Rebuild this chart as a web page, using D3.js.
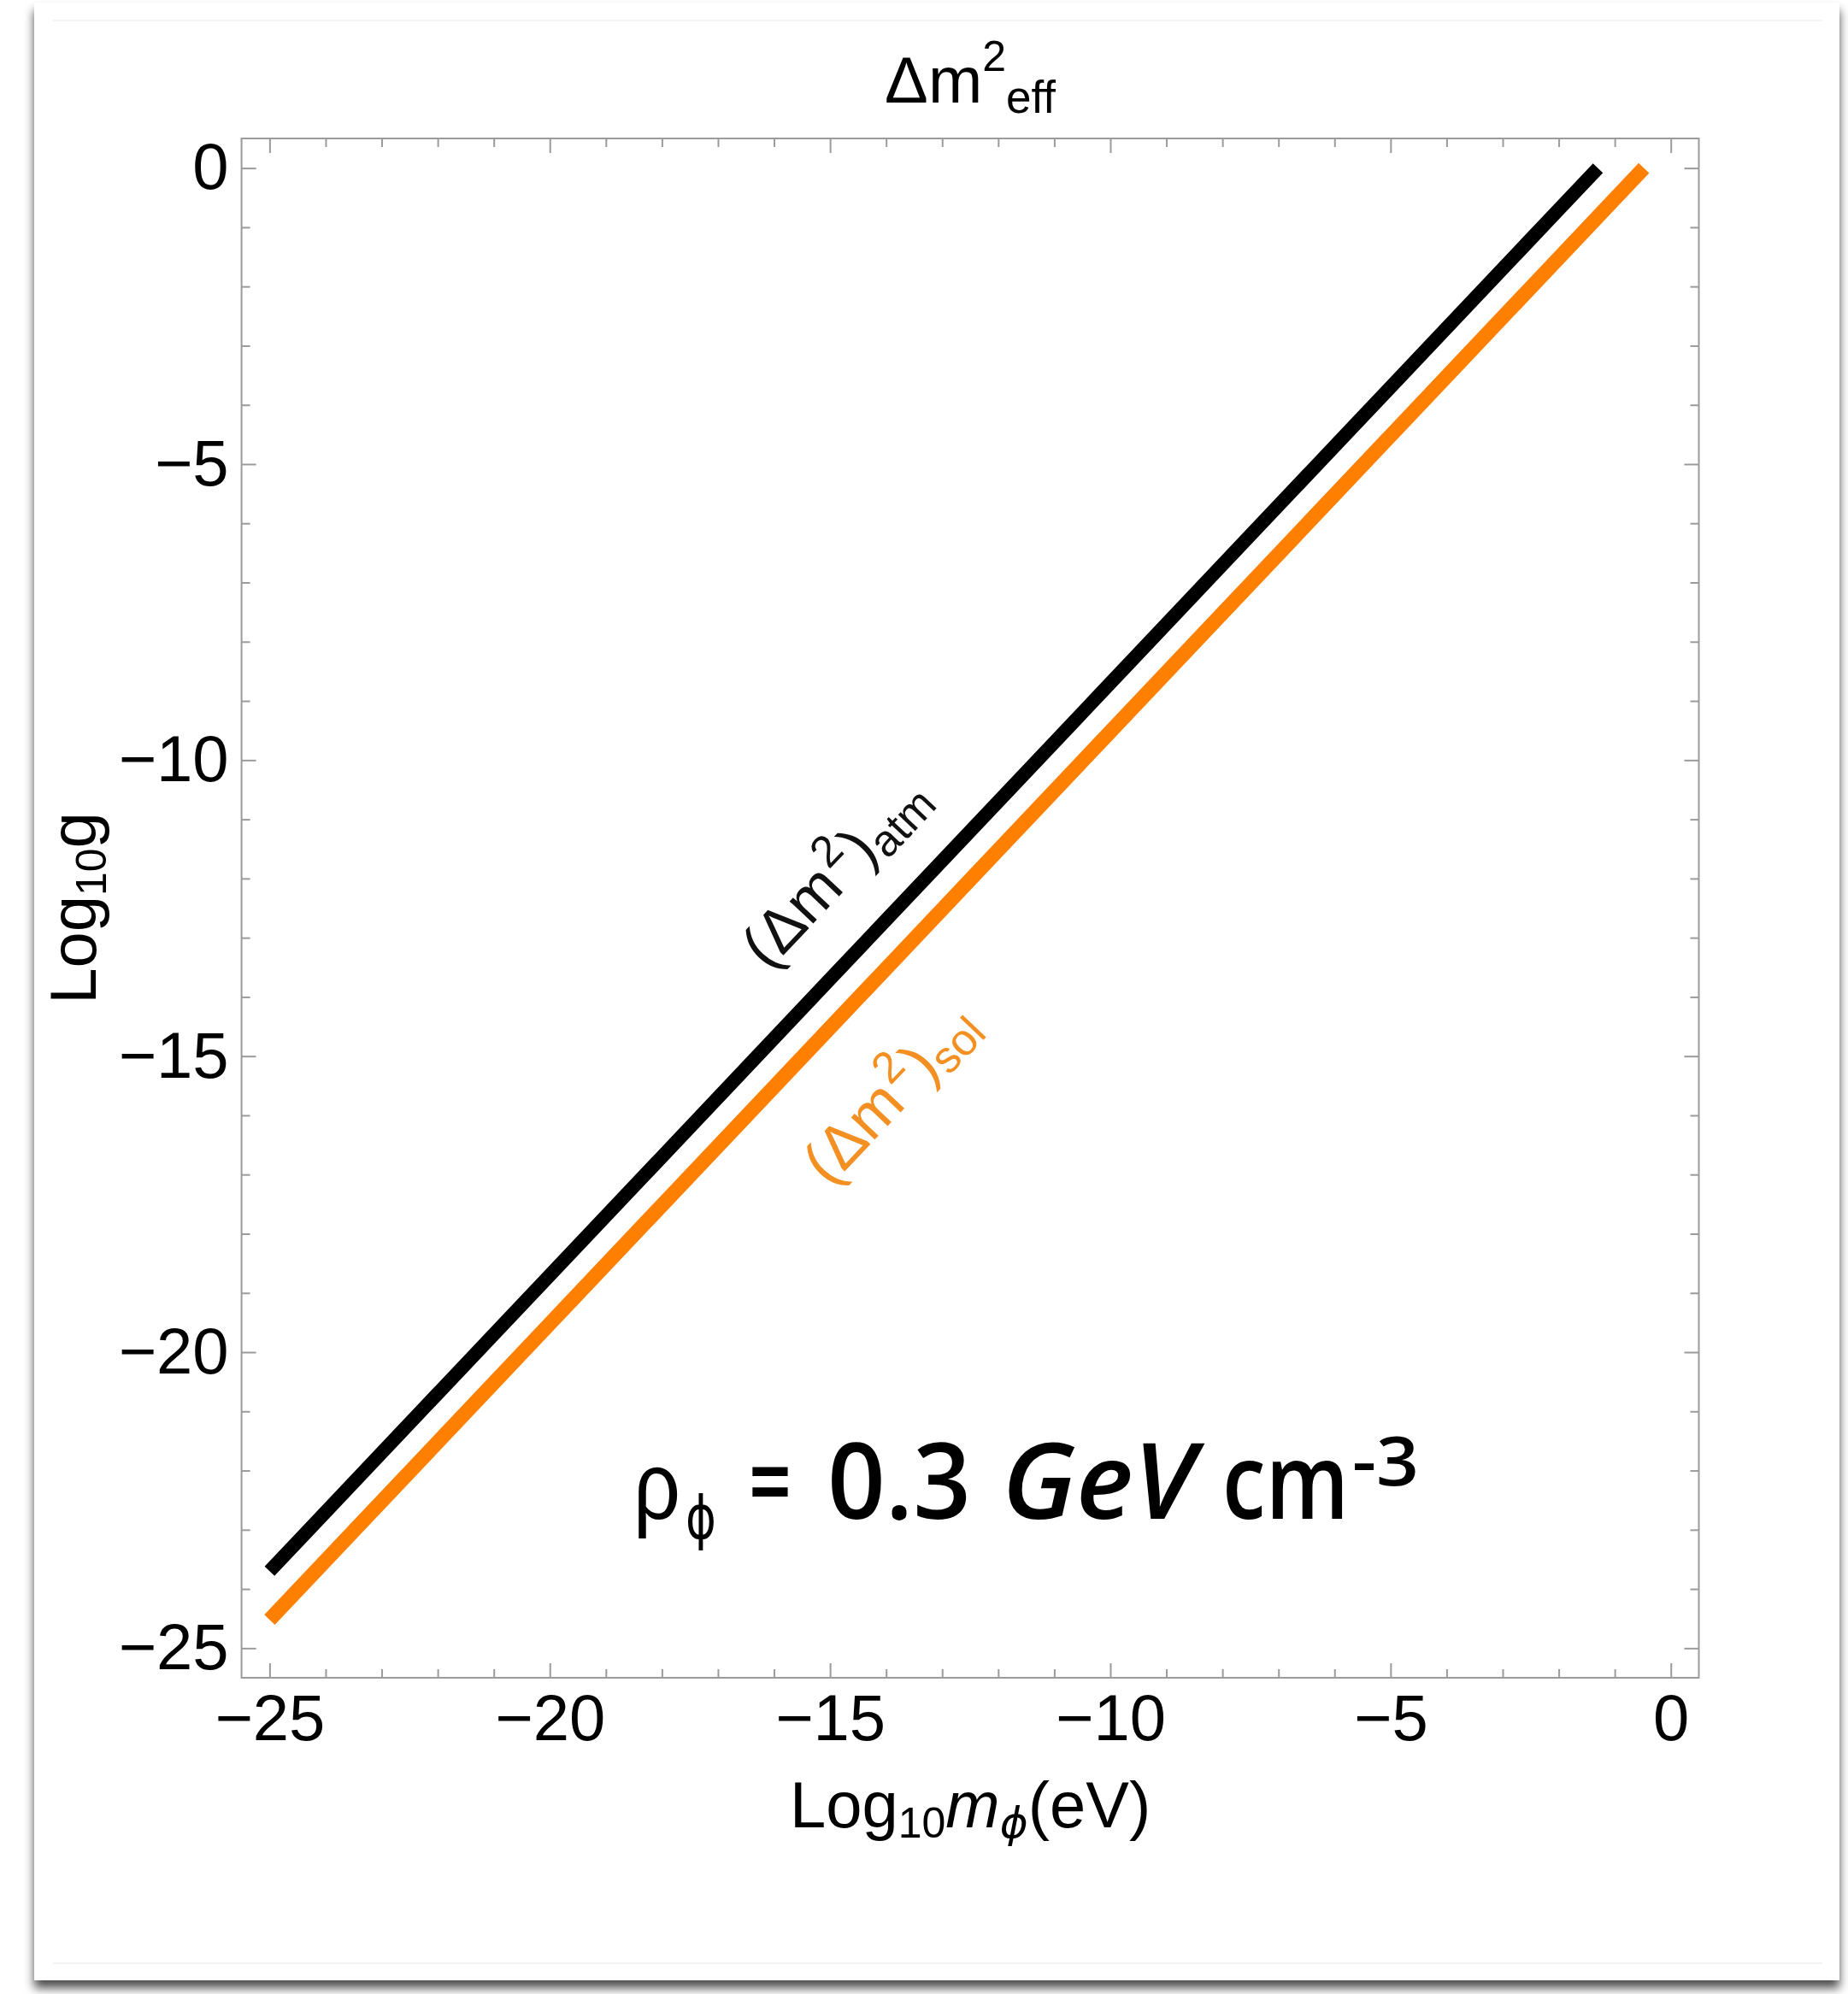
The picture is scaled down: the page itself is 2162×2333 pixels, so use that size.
<!DOCTYPE html>
<html>
<head>
<meta charset="utf-8">
<script src="https://cdn.jsdelivr.net/npm/d3@7"></script>
<style>
  html, body { margin: 0; padding: 0; background: #ffffff; }
  svg { display: block; }
</style>
</head>
<body>
<svg id="chart" width="2162" height="2333"></svg>
<script>
// Coupling needed for each mass splitting vs. scalar mass (log-log)
const mPhiAtm = [-25, -20, -15, -10, -5, -1.3];
const gAtm    = [-23.7, -18.7, -13.7, -8.7, -3.7, 0];
const mPhiSol = [-25, -20, -15, -10, -5, -0.48];
const gSol    = [-24.52, -19.52, -14.52, -9.52, -4.52, 0];

const xMajorTicks = [-25, -20, -15, -10, -5, 0];
const yMajorTicks = [-25, -20, -15, -10, -5, 0];
const xDomain = [-25.5, 0.5];
const yDomain = [-25.5, 0.5];

const seriesNames = ["atm", "sol"];
const seriesColors = ["#000000", "#ff8000"];
const labelColors = ["#111111", "#f39021"];

const svg = d3.select("#chart");
const W = 2162, H = 2333;
const frame = { left: 282.6, right: 1987.5, top: 162, bottom: 1963 };

const x = d3.scaleLinear().domain(xDomain).range([frame.left, frame.right]);
const y = d3.scaleLinear().domain(yDomain).range([frame.bottom, frame.top]);

// --- card with a soft drop shadow ---
const defs = svg.append("defs");
const shadow = defs.append("filter").attr("id", "cardShadow")
  .attr("x", "-5%").attr("y", "-5%").attr("width", "110%").attr("height", "110%");
shadow.append("feDropShadow")
  .attr("dx", 0).attr("dy", 9).attr("stdDeviation", 6)
  .attr("flood-color", "#000").attr("flood-opacity", 0.7);

svg.append("rect").attr("x", 0).attr("y", 0).attr("width", W).attr("height", H).attr("fill", "#ffffff");
svg.append("rect")
  .attr("x", 40).attr("y", 3).attr("width", 2112).attr("height", 2314)
  .attr("fill", "#ffffff").attr("filter", "url(#cardShadow)");
// faint inner rules of the card
svg.append("line").attr("x1", 62).attr("x2", 2132).attr("y1", 24).attr("y2", 24)
  .attr("stroke", "#efefef").attr("stroke-width", 1.5);
svg.append("line").attr("x1", 62).attr("x2", 2132).attr("y1", 2297).attr("y2", 2297)
  .attr("stroke", "#efefef").attr("stroke-width", 1.5);

// --- frame and ticks ---
const tickColor = "#9b9b9b";
const fontSans = "'Liberation Sans', Arial, Helvetica, sans-serif";

const minorX = d3.range(-25, 1).filter(v => v % 5 !== 0);
const minorY = d3.range(-25, 1).filter(v => v % 5 !== 0);

function styleAxis(g) {
  g.select(".domain").remove();
  g.selectAll(".tick line").attr("stroke", tickColor).attr("stroke-width", 2);
  g.selectAll(".tick text").attr("fill", "#000").style("font-family", fontSans).style("font-size", "76px");
}

const fmt = d3.format("d");

// bottom
svg.append("g").attr("transform", `translate(0,${frame.bottom})`)
  .call(d3.axisBottom(x).tickValues(xMajorTicks).tickSize(-17).tickPadding(19).tickFormat(fmt))
  .call(styleAxis);
svg.append("g").attr("transform", `translate(0,${frame.bottom})`)
  .call(d3.axisBottom(x).tickValues(minorX).tickSize(-10).tickFormat(""))
  .call(styleAxis);
// top
svg.append("g").attr("transform", `translate(0,${frame.top})`)
  .call(d3.axisTop(x).tickValues(xMajorTicks).tickSize(-17).tickFormat(""))
  .call(styleAxis);
svg.append("g").attr("transform", `translate(0,${frame.top})`)
  .call(d3.axisTop(x).tickValues(minorX).tickSize(-10).tickFormat(""))
  .call(styleAxis);
// left
svg.append("g").attr("transform", `translate(${frame.left},0)`)
  .call(d3.axisLeft(y).tickValues(yMajorTicks).tickSize(-17).tickPadding(15).tickFormat(fmt))
  .call(styleAxis);
svg.append("g").attr("transform", `translate(${frame.left},0)`)
  .call(d3.axisLeft(y).tickValues(minorY).tickSize(-10).tickFormat(""))
  .call(styleAxis);
// right
svg.append("g").attr("transform", `translate(${frame.right},0)`)
  .call(d3.axisRight(y).tickValues(yMajorTicks).tickSize(-17).tickFormat(""))
  .call(styleAxis);
svg.append("g").attr("transform", `translate(${frame.right},0)`)
  .call(d3.axisRight(y).tickValues(minorY).tickSize(-10).tickFormat(""))
  .call(styleAxis);

svg.append("rect")
  .attr("x", frame.left).attr("y", frame.top)
  .attr("width", frame.right - frame.left).attr("height", frame.bottom - frame.top)
  .attr("fill", "none").attr("stroke", tickColor).attr("stroke-width", 2);

// --- curves ---
const line = d3.line().x(d => x(d[0])).y(d => y(d[1]));
const series = [
  { name: seriesNames[0], xs: mPhiAtm, ys: gAtm, color: seriesColors[0], width: 16 },
  { name: seriesNames[1], xs: mPhiSol, ys: gSol, color: seriesColors[1], width: 17 }
];
series.forEach(s => {
  svg.append("path")
    .datum(s.xs.map((v, i) => [v, s.ys[i]]))
    .attr("d", line)
    .attr("fill", "none")
    .attr("stroke", s.color)
    .attr("stroke-width", s.width)
    .attr("stroke-linecap", "butt")
    .attr("stroke-linejoin", "round");
});

// --- labels along the curves ---
const angle = Math.atan2(y(1) - y(0), x(1) - x(0)) * 180 / Math.PI;
function curveLabel(s, atX, offset, color, sub) {
  const gy = d3.scaleLinear().domain(s.xs).range(s.ys)(atX);
  const t = svg.append("text")
    .attr("transform", `translate(${x(atX)},${y(gy)}) rotate(${angle})`)
    .attr("y", offset)
    .attr("text-anchor", "middle")
    .attr("fill", color)
    .style("font-family", fontSans)
    .style("font-size", "72px");
  t.append("tspan").text("(Δm");
  t.append("tspan").attr("dx", 3).attr("dy", -30).style("font-size", "52px").text("2");
  t.append("tspan").attr("dx", 3).attr("dy", 30).text(")");
  t.append("tspan").attr("dy", 12).style("font-size", "52px").text(sub);
}
curveLabel(series[0], -14.0, -59, labelColors[0], "atm");
curveLabel(series[1], -15.08, 128, labelColors[1], "sol");

// --- title ---
const cx = (frame.left + frame.right) / 2;
const title = svg.append("text")
  .attr("x", cx).attr("y", 120).attr("text-anchor", "middle")
  .attr("fill", "#000").style("font-family", fontSans).style("font-size", "76px");
title.append("tspan").text("Δm");
title.append("tspan").attr("dy", -37).style("font-size", "50px").text("2");
title.append("tspan").attr("dy", 49).style("font-size", "53px").text("eff");

// --- axis titles ---
const xl = svg.append("text")
  .attr("x", cx).attr("y", 2138).attr("text-anchor", "middle")
  .attr("fill", "#000").style("font-family", fontSans).style("font-size", "76px");
xl.append("tspan").text("Log");
xl.append("tspan").attr("dy", 12).style("font-size", "50px").text("10");
xl.append("tspan").attr("dy", -12).style("font-style", "italic").text("m");
xl.append("tspan").attr("dy", 12).style("font-size", "50px").style("font-style", "italic")
  .style("font-family", "'DejaVu Sans', sans-serif").text("ϕ");
xl.append("tspan").attr("dy", -12).text("(eV)");

const cy = (frame.top + frame.bottom) / 2;
const yl = svg.append("text")
  .attr("transform", `translate(112,${cy}) rotate(-90)`)
  .attr("text-anchor", "middle")
  .attr("fill", "#000").style("font-family", fontSans).style("font-size", "76px");
yl.append("tspan").text("Log");
yl.append("tspan").attr("dy", 12).style("font-size", "50px").text("10");
yl.append("tspan").attr("dy", -12).text("g");

// --- density annotation ---
const noteFont = "'Open Sans', 'DejaVu Sans', sans-serif";
const notePieces = [
  { t: "ρ",   x: 741,  w: 55,  y: 1777, size: 112, fam: fontSans, weight: 400, style: "normal" },
  { t: "ϕ",   x: 802,  w: 36,  y: 1800, size: 70,  fam: "'DejaVu Sans', sans-serif", weight: 400, style: "normal" },
  { t: "=",   x: 876,  w: 50,  y: 1777, size: 124, fam: noteFont, weight: 600, style: "normal" },
  { t: "0.3", x: 968,  w: 168, y: 1777, size: 124, fam: noteFont, weight: 600, style: "normal" },
  { t: "GeV", x: 1172, w: 226, y: 1777, size: 124, fam: noteFont, weight: 600, style: "italic" },
  { t: "cm",  x: 1430, w: 148, y: 1777, size: 124, fam: noteFont, weight: 600, style: "normal" },
  { t: "-3",  x: 1582, w: 78,  y: 1738, size: 80,  fam: noteFont, weight: 600, style: "normal" }
];
notePieces.forEach(p => {
  svg.append("text")
    .attr("x", p.x).attr("y", p.y)
    .attr("textLength", p.w).attr("lengthAdjust", "spacingAndGlyphs")
    .attr("fill", "#000")
    .style("font-family", p.fam).style("font-size", p.size + "px")
    .style("font-weight", p.weight).style("font-style", p.style)
    .text(p.t);
});
</script>
</body>
</html>
